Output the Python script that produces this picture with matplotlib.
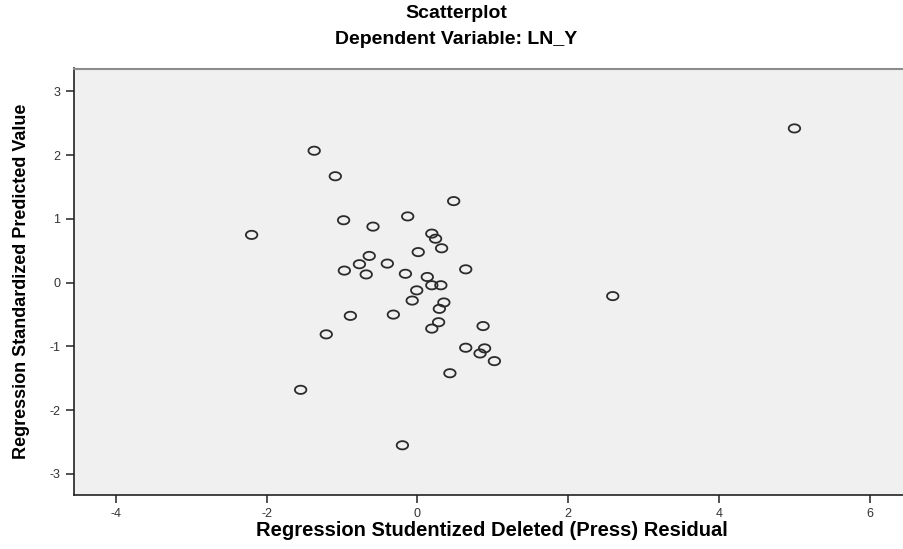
import numpy as np
import matplotlib
matplotlib.use("Agg")
import matplotlib.pyplot as plt
from matplotlib.path import Path

# residuals (x) and standardized predicted values (y)
press_resid = [
    -1.37, -1.09, 0.48, -0.98, -0.13, -0.59, -2.20, 0.19, 0.24, 0.32,
    0.01, -0.64, -0.77, -0.40, -0.97, -0.68, -0.16, 0.13, 0.64, 0.19,
    0.31, -0.01, -0.07, 0.35, 0.29, -0.89, -0.32, 0.28, 0.19, -1.21,
    0.64, 0.43, -1.55, -0.20, 0.87, 0.89, 0.83, 1.02, 5.00, 2.59,
]
std_pred = [
    2.07, 1.67, 1.28, 0.98, 1.04, 0.88, 0.75, 0.77, 0.69, 0.54,
    0.48, 0.42, 0.29, 0.30, 0.19, 0.13, 0.14, 0.09, 0.21, -0.04,
    -0.04, -0.12, -0.28, -0.31, -0.41, -0.52, -0.50, -0.62, -0.72, -0.81,
    -1.02, -1.42, -1.68, -2.55, -0.68, -1.03, -1.11, -1.23, 2.42, -0.21,
]
x_ticks = [-4, -2, 0, 2, 4, 6]
y_ticks = [-3, -2, -1, 0, 1, 2, 3]

plt.rcParams["font.family"] = ["Liberation Sans", "DejaVu Sans"]
plt.rcParams["axes.unicode_minus"] = False

# slightly flattened circle like the SPSS marker
t = np.linspace(0, 2 * np.pi, 60)
ellipse = Path(np.column_stack([np.cos(t), 0.72 * np.sin(t)]), closed=True)

fig = plt.figure(figsize=(9.04, 5.49), dpi=100)
ax = fig.add_axes([73.7 / 904, 1 - 495 / 549, (903 - 73.7) / 904, (495 - 68.5) / 549])
ax.set_facecolor("#f0f0f0")

ax.scatter(
    press_resid,
    std_pred,
    marker=ellipse,
    s=68,
    facecolors="none",
    edgecolors="#2b2b2b",
    linewidths=1.3,
)

ax.set_xlim(-4.56, 6.44)
ax.set_ylim(-3.33, 3.36)
ax.set_xticks(x_ticks)
ax.set_yticks(y_ticks)
ax.tick_params(length=6, width=1.2, color="#333333", labelsize=9, labelcolor="#333333")

for side in ["left", "bottom"]:
    ax.spines[side].set_color("#222222")
    ax.spines[side].set_linewidth(1.2)
ax.spines["top"].set_color("#8c8c8c")
ax.spines["top"].set_linewidth(1.5)
ax.spines["right"].set_visible(False)

fig.text(456 / 904, 1 - 14 / 549, "Scatterplot", ha="center", va="center",
         fontsize=14, fontweight="bold")
fig.text(456 / 904, 1 - 39 / 549, "Dependent Variable: LN_Y", ha="center", va="center",
         fontsize=14, fontweight="bold")
fig.text(492 / 904, 1 - 531 / 549, "Regression Studentized Deleted (Press) Residual",
         ha="center", va="center", fontsize=14.5, fontweight="bold")
fig.text(22 / 904, 1 - 281 / 549, "Regression Standardized Predicted Value",
         ha="center", va="center", rotation=90, fontsize=13, fontweight="bold")

plt.savefig("out.png", dpi=100)
